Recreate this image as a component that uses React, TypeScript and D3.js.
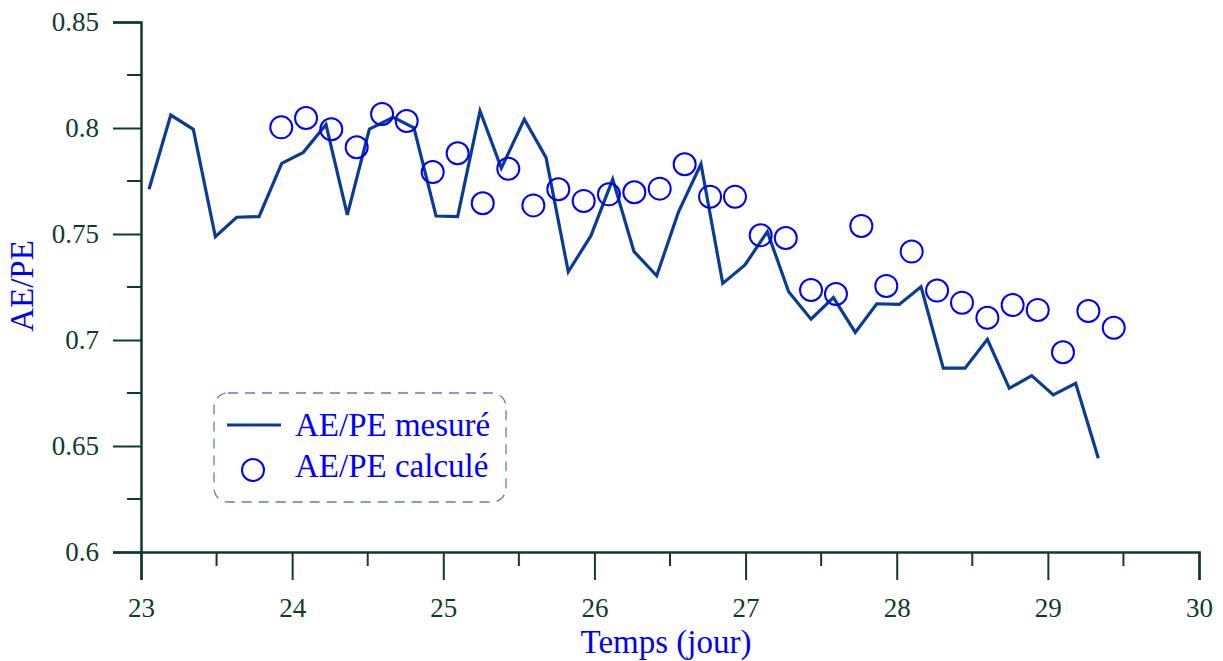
import * as d3 from "d3";
import React, { useRef, useEffect } from "react";

// measured line (day, AE/PE)
const mesureJour = [23.053, 23.197, 23.346, 23.492, 23.633, 23.781, 23.931, 24.074, 24.224, 24.365, 24.511, 24.669, 24.806, 24.952, 25.095, 25.243, 25.384, 25.536, 25.68, 25.827, 25.977, 26.121, 26.262, 26.412, 26.555, 26.705, 26.849, 26.996, 27.144, 27.285, 27.433, 27.581, 27.726, 27.868, 28.017, 28.161, 28.308, 28.452, 28.6, 28.745, 28.893, 29.036, 29.184, 29.334];
const mesureVal = [0.7711, 0.8061, 0.7994, 0.7487, 0.7579, 0.7582, 0.7833, 0.7885, 0.8016, 0.759, 0.7995, 0.805, 0.8001, 0.7585, 0.7582, 0.808, 0.7811, 0.8041, 0.786, 0.7322, 0.7492, 0.7758, 0.7417, 0.7303, 0.7602, 0.783, 0.7267, 0.7354, 0.7511, 0.7228, 0.7098, 0.72, 0.7036, 0.7171, 0.7168, 0.7251, 0.6867, 0.6867, 0.7003, 0.6772, 0.6832, 0.6741, 0.6796, 0.6442];

// calculated points
const calcJour = [23.928, 24.092, 24.259, 24.427, 24.595, 24.758, 24.93, 25.095, 25.261, 25.43, 25.596, 25.761, 25.929, 26.096, 26.264, 26.432, 26.597, 26.765, 26.93, 27.1, 27.266, 27.433, 27.598, 27.766, 27.931, 28.099, 28.267, 28.432, 28.6, 28.767, 28.933, 29.1, 29.268, 29.436];
const calcVal = [0.8003, 0.8047, 0.7994, 0.7909, 0.8066, 0.8033, 0.7792, 0.7881, 0.7645, 0.7808, 0.7635, 0.7711, 0.7656, 0.7687, 0.7697, 0.7714, 0.7829, 0.7676, 0.7676, 0.7494, 0.7481, 0.7236, 0.7217, 0.7538, 0.7255, 0.7417, 0.7233, 0.7176, 0.7105, 0.7165, 0.7142, 0.6942, 0.7137, 0.7058];

const xTicks = [23, 24, 25, 26, 27, 28, 29, 30];
const yTicks = [0.6, 0.65, 0.7, 0.75, 0.8, 0.85];
const yTickLabels = ["0.6", "0.65", "0.7", "0.75", "0.8", "0.85"];

const App = () => {
    const svgRef = useRef(null);

    useEffect(() => {
        const width = 1223;
        const height = 661;
        const axisColor = "#0e3b30";
        const lineColor = "#0a3c94";
        const blue = "#0000ff";
        const font = "'Liberation Serif', 'Times New Roman', serif";

        const x = d3.scaleLinear().domain([23, 30]).range([141, 1199]);
        const y = d3.scaleLinear().domain([0.6, 0.85]).range([552, 22]);

        const svg = d3.create("svg")
            .attr("width", width)
            .attr("height", height)
            .style("position", "absolute")
            .style("left", 0)
            .style("top", 0)
            .style("background", "#fff");

        // x axis
        const gx = svg.append("g").attr("transform", `translate(0,${y(0.6)})`);
        gx.call(d3.axisBottom(x).tickValues(xTicks).tickSize(28).tickPadding(18).tickFormat(d3.format("d")));
        gx.select(".domain").attr("stroke", axisColor).attr("stroke-width", 2.5);
        gx.selectAll(".tick line").attr("stroke", axisColor).attr("stroke-width", 2);
        gx.selectAll(".tick text").attr("fill", axisColor).attr("font-family", font).style("font-size", "27px");
        gx.append("g")
            .selectAll("line")
            .data(d3.range(23.5, 30, 1))
            .join("line")
            .attr("x1", d => x(d)).attr("x2", d => x(d))
            .attr("y1", 0).attr("y2", 14)
            .attr("stroke", axisColor).attr("stroke-width", 2);

        // y axis
        const gy = svg.append("g").attr("transform", `translate(${x(23)},0)`);
        gy.call(d3.axisLeft(y).tickValues(yTicks).tickSize(28).tickPadding(14).tickFormat((d, i) => yTickLabels[i]));
        gy.select(".domain").attr("stroke", axisColor).attr("stroke-width", 2.5);
        gy.selectAll(".tick line").attr("stroke", axisColor).attr("stroke-width", 2);
        gy.selectAll(".tick text").attr("fill", axisColor).attr("font-family", font).style("font-size", "27px");
        gy.append("g")
            .selectAll("line")
            .data(d3.range(0.625, 0.85, 0.05))
            .join("line")
            .attr("x1", -14).attr("x2", 0)
            .attr("y1", d => y(d)).attr("y2", d => y(d))
            .attr("stroke", axisColor).attr("stroke-width", 2);

        // axis titles
        svg.append("text")
            .attr("x", 666)
            .attr("y", 653)
            .attr("text-anchor", "middle")
            .attr("font-family", font)
            .attr("fill", blue)
            .style("font-size", "33px")
            .text("Temps (jour)");
        svg.append("text")
            .attr("transform", `translate(33,286) rotate(-90)`)
            .attr("text-anchor", "middle")
            .attr("font-family", font)
            .attr("fill", blue)
            .style("font-size", "33px")
            .text("AE/PE");

        // measured line
        const line = d3.line()
            .x(i => x(mesureJour[i]))
            .y(i => y(mesureVal[i]));
        svg.append("path")
            .attr("d", line(d3.range(mesureJour.length)))
            .attr("fill", "none")
            .attr("stroke", lineColor)
            .attr("stroke-width", 3.2)
            .attr("stroke-linejoin", "miter");

        // calculated circles
        svg.append("g")
            .selectAll("circle")
            .data(d3.range(calcJour.length))
            .join("circle")
            .attr("cx", i => x(calcJour[i]))
            .attr("cy", i => y(calcVal[i]))
            .attr("r", 11)
            .attr("fill", "none")
            .attr("stroke", blue)
            .attr("stroke-width", 2);

        // legend
        const lg = svg.append("g");
        lg.append("rect")
            .attr("x", 214).attr("y", 393)
            .attr("width", 292).attr("height", 109)
            .attr("rx", 14)
            .attr("fill", "none")
            .attr("stroke", "#5b7cc0")
            .attr("stroke-width", 1.3)
            .attr("stroke-dasharray", "10,7");
        lg.append("line")
            .attr("x1", 227).attr("x2", 281)
            .attr("y1", 425).attr("y2", 425)
            .attr("stroke", lineColor).attr("stroke-width", 3.2);
        lg.append("circle")
            .attr("cx", 253).attr("cy", 470).attr("r", 11)
            .attr("fill", "none").attr("stroke", blue).attr("stroke-width", 2);
        lg.append("text")
            .attr("x", 295).attr("y", 436)
            .attr("font-family", font).attr("fill", blue)
            .style("font-size", "33px")
            .text("AE/PE mesuré");
        lg.append("text")
            .attr("x", 295).attr("y", 477)
            .attr("font-family", font).attr("fill", blue)
            .style("font-size", "33px")
            .text("AE/PE calculé");

        if (svgRef.current) {
            svgRef.current.innerHTML = "";
            svgRef.current.appendChild(svg.node());
        }
    }, []);

    return <div ref={svgRef}></div>;
};

export default App;
